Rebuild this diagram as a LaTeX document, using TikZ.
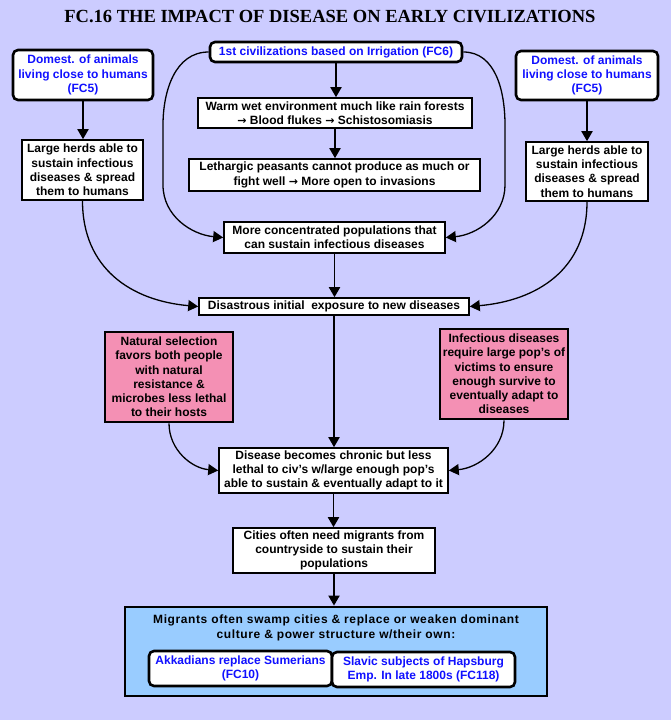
\documentclass[tikz,border=0pt]{standalone}
\usepackage{fontspec}
\setmainfont{Liberation Sans}
\newfontfamily\titlefont{Liberation Serif}
\newfontfamily\arrfont{DejaVu Sans}
\newfontfamily\wideface[LetterSpace=5]{Liberation Sans}
\newcommand{\myarr}{{\arrfont\bfseries\fontsize{11}{14.2}\selectfont →}}
\usetikzlibrary{arrows.meta}
\definecolor{bgc}{HTML}{CCCCFF}
\definecolor{pinkc}{HTML}{F490B4}
\definecolor{bluef}{HTML}{99CCFF}
\definecolor{linkc}{HTML}{1010FF}
\begin{document}
\begin{tikzpicture}[x=1pt,y=-1pt,
 every node/.style={font=\bfseries\fontsize{12}{14.2}\selectfont, align=center, inner sep=1pt},
 box/.style={draw, fill=white, line width=1.6pt},
 rbox/.style={draw, fill=white, line width=2.6pt, rounded corners=5pt, text=linkc},
 pbox/.style={draw, fill=pinkc, line width=2.6pt},
 arr/.style={line width=1.9pt, -{Triangle[length=10pt,width=11pt]}},
 carr/.style={line width=1.3pt, -{Triangle[length=10pt,width=11pt]}},
]
\fill[bgc] (0,0) rectangle (671,720);
\useasboundingbox (0,0) rectangle (671,720);

\node[font=\titlefont\bfseries\fontsize{18.5}{20}\selectfont] (title) at (330,17) {FC.16 THE IMPACT OF DISEASE ON EARLY CIVILIZATIONS};

\node[rbox, minimum width=140pt, minimum height=50pt] (dl) at (83,75) {Domest. of animals\\living close to humans\\(FC5)};
\node[rbox, minimum width=142pt, minimum height=49pt] (dr) at (587,75.5) {Domest. of animals\\living close to humans\\(FC5)};
\node[box, minimum width=121pt, minimum height=60pt] (hl) at (82.5,170) {Large herds able to\\sustain infectious\\diseases \& spread\\them to humans};
\node[box, minimum width=122pt, minimum height=59pt] (hr) at (587,171.5) {Large herds able to\\sustain infectious\\diseases \& spread\\them to humans};
\node[rbox, minimum width=252pt, minimum height=20pt] (fc6) at (336,52) {1st civilizations based on Irrigation (FC6)};
\node[box, minimum width=274pt, minimum height=30pt] (warm) at (335,113) {Warm wet environment much like rain forests\\\myarr{} Blood flukes \myarr{} Schistosomiasis};
\node[box, minimum width=291pt, minimum height=32pt] (leth) at (334.5,175) {Lethargic peasants cannot produce as much or\\fight well \myarr{} More open to invasions};
\node[box, minimum width=221pt, minimum height=31pt] (conc) at (334.5,237.5) {More concentrated populations that\\can sustain infectious diseases};
\node[box, minimum width=270pt, minimum height=17pt] (dis) at (334,306.5) {Disastrous initial\ \ exposure to new diseases};
\node[pbox, minimum width=128pt, minimum height=90pt] (nat) at (169,377) {Natural selection\\favors both people\\with natural\\resistance \&\\microbes less lethal\\to their hosts};
\node[pbox, minimum width=128pt, minimum height=90pt] (inf) at (504,374) {Infectious diseases\\require large pop’s of\\victims to ensure\\enough survive to\\eventually adapt to\\diseases};
\node[box, minimum width=229pt, minimum height=45pt] (chr) at (333.5,470.5) {Disease becomes chronic but less\\lethal to civ’s w/large enough pop’s\\able to sustain \& eventually adapt to it};
\node[box, minimum width=202pt, minimum height=45pt] (cit) at (334,550.5) {Cities often need migrants from\\countryside to sustain their\\populations};
\node[draw, fill=bluef, line width=2.8pt, minimum width=422pt, minimum height=89pt] (mig) at (336,651.5) {};
\node[font=\wideface\bfseries\fontsize{12}{15.5}\selectfont] (migtext) at (336,628) {Migrants often swamp cities \& replace or weaken dominant\\culture \& power structure w/their own:};
\node[rbox, minimum width=183pt, minimum height=35pt] (akk) at (240.5,668.5) {Akkadians replace Sumerians\\(FC10)};
\node[rbox, minimum width=183pt, minimum height=35pt] (sla) at (423.5,669.5) {Slavic subjects of Hapsburg\\Emp. In late 1800s (FC118)};

\draw[arr] (fc6.south) -- (fc6.south |- warm.north);
\draw[arr] (warm.south) -- (warm.south |- leth.north);
\draw[arr] (conc.south) -- (conc.south |- dis.north);
\draw[arr] (dis.south) -- (dis.south |- chr.north);
\draw[arr] (chr.south) -- (chr.south |- cit.north);
\draw[arr] (cit.south) -- (cit.south |- mig.north);
\draw[arr] (dl.south) -- (dl.south |- hl.north);
\draw[arr] (dr.south) -- (dr.south |- hr.north);

\draw[carr] (fc6.west) to[out=180,in=90] (163,125) -- (163,185) to[out=-90,in=175] (conc.west);
\draw[carr] (fc6.east) to[out=0,in=90] (505,125) -- (505,185) to[out=-90,in=5] (conc.east);
\draw[carr] (hl.south) to[out=-90,in=175,looseness=1.1] (dis.west);
\draw[carr] (hr.south) to[out=-90,in=5,looseness=1.1] (dis.east);
\draw[carr] (nat.south) to[out=-90,in=175] (chr.west);
\draw[carr] (inf.south) to[out=-90,in=5] (chr.east);
\end{tikzpicture}
\end{document}
